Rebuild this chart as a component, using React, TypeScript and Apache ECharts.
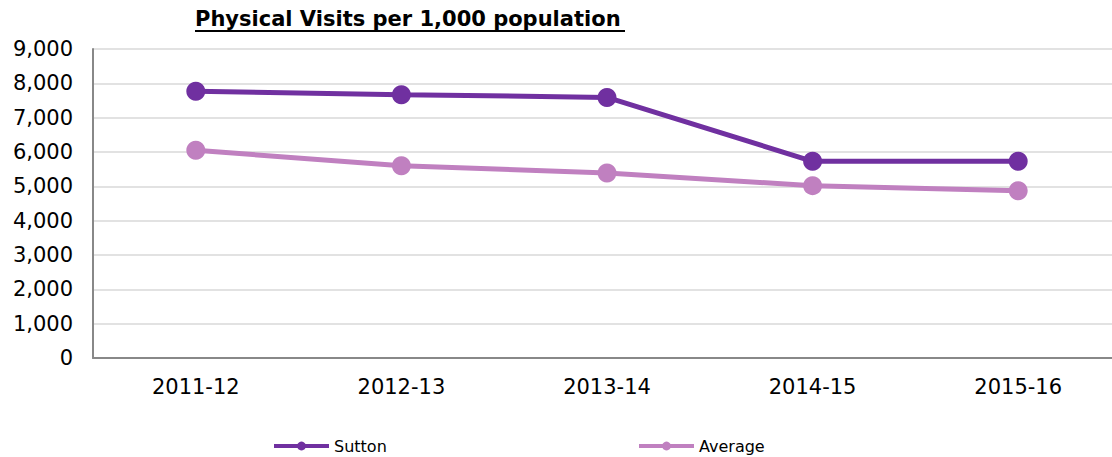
import React, { useEffect, useRef } from "react";
import * as echarts from "echarts";

const categories = ["2011-12", "2012-13", "2013-14", "2014-15", "2015-16"];
const sutton = [7770, 7670, 7590, 5730, 5730];
const average = [6050, 5600, 5390, 5020, 4870];
const titleText = "Physical Visits per 1,000 population";

export default function App() {
  const ref = useRef<HTMLDivElement>(null);
  useEffect(() => {
    const chart = echarts.init(ref.current!, null, { renderer: "svg" });
    const font = "Verdana, 'DejaVu Sans', sans-serif";
    const legendCommon = {
      top: 438,
      padding: 0,
      itemWidth: 55,
      itemHeight: 11,
      itemGap: 4,
      lineStyle: { width: 4 },
      textStyle: { fontFamily: font, fontSize: 16, color: "#000" },
    };
    chart.setOption({
      animation: false,
      backgroundColor: "#fff",
      title: {
        text: titleText,
        left: 195,
        top: 8,
        padding: 0,
        textStyle: { fontFamily: font, fontSize: 21, fontWeight: "bold", color: "#000" },
      },
      graphic: [
        { type: "rect", shape: { x: 195, y: 30, width: 430, height: 2 }, style: { fill: "#000" } },
      ],
      legend: [
        { ...legendCommon, data: ["Sutton"], left: 272 },
        { ...legendCommon, data: ["Average"], left: 637 },
      ],
      grid: { left: 93, right: 0, top: 49, bottom: 99, containLabel: false },
      xAxis: {
        type: "category",
        data: categories,
        boundaryGap: true,
        axisLine: { lineStyle: { color: "#888", width: 2 } },
        axisTick: { show: false },
        axisLabel: { fontFamily: font, fontSize: 21, color: "#000", margin: 18 },
      },
      yAxis: {
        type: "value",
        min: 0,
        max: 9000,
        interval: 1000,
        axisLine: { show: true, lineStyle: { color: "#888", width: 2 } },
        axisTick: { show: false },
        splitLine: { lineStyle: { color: "#d9d9d9", width: 1.5 } },
        axisLabel: {
          fontFamily: font,
          fontSize: 21,
          color: "#000",
          margin: 20,
          formatter: (v: number) => v.toLocaleString("en-US"),
        },
      },
      series: [
        {
          name: "Sutton",
          type: "line",
          data: sutton,
          symbol: "circle",
          symbolSize: 19,
          color: "#7030A0",
          lineStyle: { width: 5, color: "#7030A0" },
          itemStyle: { color: "#7030A0" },
        },
        {
          name: "Average",
          type: "line",
          data: average,
          symbol: "circle",
          symbolSize: 19,
          color: "#C080C0",
          lineStyle: { width: 5, color: "#C080C0" },
          itemStyle: { color: "#C080C0" },
        },
      ],
    });
    return () => chart.dispose();
  }, []);
  return (
    <div
      style={{ position: "absolute", left: 0, top: 0, width: 1112, height: 457, overflow: "hidden" }}
    >
      <div ref={ref} style={{ width: 1121, height: 457 }} />
    </div>
  );
}
